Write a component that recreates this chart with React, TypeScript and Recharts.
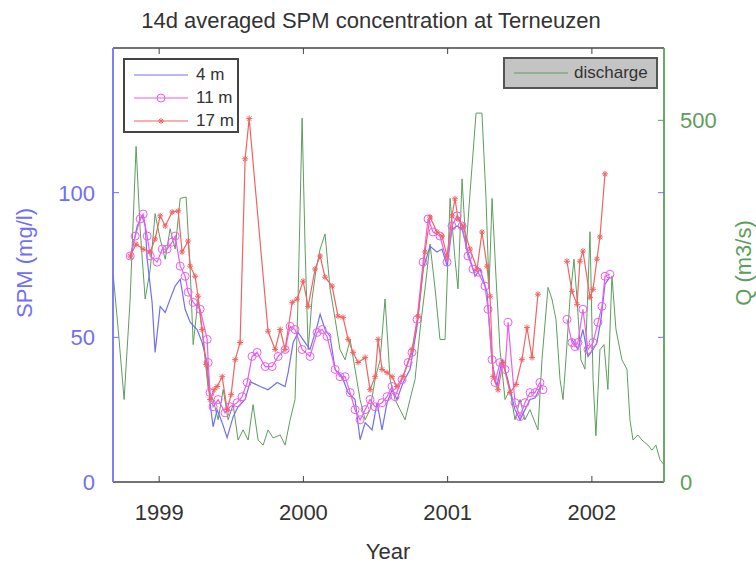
import { LineChart, Line, XAxis, YAxis, ReferenceLine, Label } from 'recharts'

// plot frame in page pixels (MATLAB-style box)
const PLOT_LEFT = 113
const PLOT_RIGHT = 664
const PLOT_TOP = 48
const PLOT_BOTTOM = 482

const FONT = '"Liberation Sans", Arial, Helvetica, sans-serif'
const BLUE = '#7070f4'
const MAGENTA = '#ee5cee'
const RED = '#f06464'
const GREEN = '#5d9e5d'
const AXIS = '#444444'

const yearTicks = [1999, 2000, 2001, 2002]
const spmTicks = [0, 50, 100]
const qTicks = [0, 500]

// discharge (m3/s)
const qTime = [
  1998.681, 1998.716, 1998.757, 1998.799, 1998.84, 1998.868, 1998.903, 1998.938, 1998.972, 1999.007,
  1999.042, 1999.076, 1999.111, 1999.146, 1999.187, 1999.215, 1999.236, 1999.27, 1999.305, 1999.34,
  1999.374, 1999.409, 1999.444, 1999.478, 1999.513, 1999.547, 1999.582, 1999.617, 1999.651, 1999.686,
  1999.721, 1999.755, 1999.79, 1999.839, 1999.873, 1999.908, 1999.942, 1999.963, 1999.991, 2000.012,
  2000.033, 2000.06, 2000.088, 2000.116, 2000.15, 2000.185, 2000.22, 2000.254, 2000.289, 2000.324,
  2000.358, 2000.393, 2000.428, 2000.462, 2000.497, 2000.532, 2000.566, 2000.601, 2000.635, 2000.67,
  2000.705, 2000.739, 2000.774, 2000.809, 2000.843, 2000.878, 2000.913, 2000.947, 2000.982, 2001.017,
  2001.051, 2001.072, 2001.1, 2001.128, 2001.155, 2001.197, 2001.238, 2001.266, 2001.287, 2001.308,
  2001.336, 2001.363, 2001.398, 2001.432, 2001.467, 2001.502, 2001.536, 2001.571, 2001.626, 2001.654,
  2001.696, 2001.723, 2001.751, 2001.779, 2001.8, 2001.82, 2001.848, 2001.876, 2001.897, 2001.924,
  2001.952, 2001.987, 2002.008, 2002.028, 2002.056, 2002.084, 2002.111, 2002.139, 2002.167, 2002.208,
  2002.243, 2002.264, 2002.285, 2002.319, 2002.347, 2002.389, 2002.416, 2002.444, 2002.472, 2002.499,
]
const qValue = [
  287, 211, 114, 253, 464, 350, 253, 294, 371, 336,
  308, 350, 322, 392, 394, 294, 190, 253, 197, 128,
  114, 86, 128, 86, 107, 58, 72, 58, 107, 58,
  51, 72, 61, 65, 51, 86, 114, 253, 503, 322,
  183, 253, 294, 322, 343, 267, 225, 183, 169, 197,
  156, 114, 86, 100, 142, 169, 253, 142, 114, 100,
  86, 114, 142, 211, 267, 329, 267, 197, 197, 392,
  308, 267, 419, 322, 399, 510, 510, 392, 267, 392,
  281, 183, 114, 128, 86, 114, 86, 100, 72, 169,
  269, 253, 225, 142, 114, 169, 253, 308, 253, 169,
  156, 346, 142, 64, 183, 190, 128, 285, 211, 169,
  156, 86, 58, 65, 58, 51, 44, 51, 31, 24,
]

// SPM at 4 m (mg/l)
const spm4Time = [
  1998.799, 1998.848, 1998.882, 1998.903, 1998.917, 1998.951, 1998.972, 1999.007, 1999.042, 1999.076,
  1999.111, 1999.146, 1999.18, 1999.215, 1999.263, 1999.298, 1999.333, 1999.353, 1999.374, 1999.402,
  1999.437, 1999.471, 1999.513, 1999.547, 1999.596, 1999.631, 1999.7, 1999.755, 1999.818, 1999.873,
  1999.894, 1999.929, 1999.963, 2000.012, 2000.046, 2000.095, 2000.116, 2000.15, 2000.185, 2000.22,
  2000.268, 2000.31, 2000.358, 2000.393, 2000.428, 2000.476, 2000.511, 2000.545, 2000.58, 2000.615,
  2000.649, 2000.691, 2000.739, 2000.788, 2000.83, 2000.878, 2000.926, 2000.961, 2000.996, 2001.03,
  2001.065, 2001.1, 2001.141, 2001.19, 2001.225, 2001.273, 2001.308, 2001.342, 2001.377, 2001.412,
  2001.467, 2001.502, 2001.536, 2001.571, 2001.606, 2001.64, 2001.75, 2001.862, 2001.903, 2001.938,
  2001.973, 2002.008, 2002.035, 2002.063, 2002.091, 2002.125,
]
const spm4Value = [
  77.0, 88.5, 92.0, 88.5, 77.0, 62.1, 44.8, 60.7, 58.6, 63.2,
  67.7, 70.1, 59.7, 55.2, 52.7, 48.2, 41.3, 27.4, 19.1, 25.0,
  20.5, 15.3, 22.6, 26.0, 28.5, 34.7, 33.0, 31.9, 34.4, 33.0,
  37.8, 48.2, 51.7, 48.2, 45.8, 53.8, 58.0, 52.7, 50.3, 38.9,
  36.4, 30.9, 28.5, 14.6, 20.5, 18.0, 27.4, 18.0, 27.4, 31.9,
  28.5, 34.4, 38.9, 53.8, 73.6, 81.5, 79.5, 80.5, 74.6, 87.4,
  88.5, 87.4, 79.5, 71.1, 73.6, 65.6, 41.3, 33.0, 42.3, 36.4,
  25.0, 21.5, 25.0, 28.5, 29.0, 32.6, null, 49.3, 45.8, 52.7,
  43.4, 45.8, 48.2, 56.2, 68.4, 70.8,
]

// SPM at 11 m (mg/l)
const spm11Time = [
  1998.799, 1998.834, 1998.868, 1998.889, 1998.917, 1998.938, 1998.986, 1999.021, 1999.055, 1999.09,
  1999.111, 1999.146, 1999.18, 1999.201, 1999.236, 1999.284, 1999.333, 1999.34, 1999.353, 1999.374,
  1999.409, 1999.457, 1999.492, 1999.541, 1999.575, 1999.61, 1999.644, 1999.679, 1999.735, 1999.783,
  1999.825, 1999.873, 1999.908, 1999.942, 1999.991, 2000.046, 2000.095, 2000.13, 2000.164, 2000.22,
  2000.254, 2000.289, 2000.324, 2000.358, 2000.393, 2000.428, 2000.462, 2000.497, 2000.545, 2000.58,
  2000.615, 2000.635, 2000.684, 2000.726, 2000.753, 2000.788, 2000.83, 2000.864, 2000.899, 2000.947,
  2000.996, 2001.03, 2001.065, 2001.1, 2001.141, 2001.176, 2001.211, 2001.259, 2001.28, 2001.308,
  2001.329, 2001.363, 2001.398, 2001.419, 2001.467, 2001.502, 2001.536, 2001.571, 2001.606, 2001.64,
  2001.661, 2001.75, 2001.827, 2001.862, 2001.883, 2001.903, 2001.938, 2001.973, 2002.008, 2002.042,
  2002.07, 2002.091, 2002.125,
]
const spm11Value = [
  78.1, 85.0, 90.9, 92.6, 85.0, 78.1, 76.0, 80.5, 80.5, 82.9,
  85.0, 74.6, 71.1, 65.6, 62.1, 59.7, 49.3, 41.3, 30.9, 26.0,
  28.5, 23.9, 26.0, 27.4, 29.5, 34.4, 43.4, 44.8, 39.9, 39.9,
  43.4, 45.8, 53.8, 52.7, 45.8, 43.4, 51.7, 52.7, 50.3, 38.9,
  36.4, 36.4, 30.9, 25.0, 21.5, 25.0, 28.5, 26.0, 27.4, 29.5,
  33.0, 29.5, 35.4, 41.3, 44.8, 56.2, 76.0, 90.9, 86.4, 85.0,
  76.0, 88.5, 92.0, 88.5, 78.1, 73.6, 72.5, 67.7, 59.7, 42.3,
  34.4, 41.3, 38.9, 55.2, 27.4, 22.6, 27.4, 30.9, 30.9, 34.4,
  31.9, null, 56.2, 48.2, 46.8, 48.2, 59.7, 45.8, 48.2, 55.2,
  60.7, 71.1, 71.8,
]

// SPM at 17 m (mg/l)
const spm17Time = [
  1998.799, 1998.84, 1998.889, 1998.938, 1998.972, 1999.007, 1999.042, 1999.09, 1999.132, 1999.159,
  1999.201, 1999.215, 1999.249, 1999.27, 1999.298, 1999.326, 1999.353, 1999.381, 1999.402, 1999.437,
  1999.471, 1999.499, 1999.527, 1999.561, 1999.596, 1999.624, 1999.755, 1999.804, 1999.839, 1999.873,
  1999.922, 1999.956, 1999.998, 2000.033, 2000.081, 2000.116, 2000.15, 2000.199, 2000.24, 2000.275,
  2000.31, 2000.344, 2000.379, 2000.428, 2000.462, 2000.497, 2000.518, 2000.545, 2000.58, 2000.615,
  2000.649, 2000.691, 2000.753, 2000.795, 2000.843, 2000.878, 2000.926, 2000.961, 2000.996, 2001.03,
  2001.051, 2001.072, 2001.107, 2001.155, 2001.204, 2001.238, 2001.273, 2001.294, 2001.315, 2001.349,
  2001.384, 2001.432, 2001.474, 2001.515, 2001.55, 2001.585, 2001.626, 2001.72, 2001.827, 2001.862,
  2001.897, 2001.917, 2001.938, 2001.987, 2002.008, 2002.035, 2002.056, 2002.091,
]
const spm17Value = [
  78.1, 82.2, 80.5, 79.5, 84.0, 92.0, 88.5, 93.3, 93.7, 79.5,
  83.3, 74.6, 71.1, 64.2, 52.7, 40.6, 28.5, 31.9, 33.0, 36.4,
  25.0, 30.2, 42.3, 48.2, 111.7, 125.6, 52.1, 45.8, 52.7, 45.8,
  62.1, 63.2, 69.4, 60.7, 73.6, 78.1, 70.8, 67.7, 57.3, 56.9,
  49.3, 44.8, 41.3, 43.0, 31.9, 36.4, 49.3, 38.9, 37.8, 36.4,
  33.0, 36.4, 45.8, 57.3, 79.5, 91.6, 86.4, 85.0, 78.1, 92.0,
  97.9, 90.9, 88.5, 80.5, 73.6, 86.4, 74.6, 64.2, 36.4, 31.9,
  41.3, 30.9, 33.7, 42.3, 53.4, 43.0, 64.9, null, 76.3, 65.9,
  61.4, 76.3, 79.8, 63.8, 66.6, 77.0, 84.7, 106.5,
]

const toPoints = (t: number[], v: (number | null)[]) => t.map((x, i) => ({ t: x, v: v[i] }))

const discharge = toPoints(qTime, qValue)
const spm4 = toPoints(spm4Time, spm4Value)
const spm11 = toPoints(spm11Time, spm11Value)
const spm17 = toPoints(spm17Time, spm17Value)

function YearTick(props: any) {
  const { x, payload } = props
  return (
    <g>
      <line x1={x} x2={x} y1={PLOT_BOTTOM} y2={PLOT_BOTTOM - 6} stroke={AXIS} />
      <line x1={x} x2={x} y1={PLOT_TOP} y2={PLOT_TOP + 6} stroke={AXIS} />
      <text x={x} y={520} textAnchor="middle" fontSize={22} fontFamily={FONT} fill="#333">
        {payload.value}
      </text>
    </g>
  )
}

function SpmTick(props: any) {
  const { y, payload } = props
  return (
    <g>
      {payload.value > 0 && (
        <>
          <line x1={PLOT_LEFT} x2={PLOT_LEFT + 6} y1={y} y2={y} stroke={BLUE} />
          <line x1={PLOT_RIGHT - 6} x2={PLOT_RIGHT} y1={y} y2={y} stroke={BLUE} />
        </>
      )}
      <text x={95} y={y + 8} textAnchor="end" fontSize={22} fontFamily={FONT} fill={BLUE}>
        {payload.value}
      </text>
    </g>
  )
}

function QTick(props: any) {
  const { y, payload } = props
  return (
    <g>
      {payload.value > 0 && <line x1={PLOT_RIGHT - 6} x2={PLOT_RIGHT} y1={y} y2={y} stroke={GREEN} />}
      <text x={680} y={y + 8} textAnchor="start" fontSize={22} fontFamily={FONT} fill={GREEN}>
        {payload.value}
      </text>
    </g>
  )
}

function CircleDot(props: any) {
  const { cx, cy, index, payload } = props
  if (cx == null || cy == null || payload?.v == null) return <g key={index} />
  return <circle key={index} cx={cx} cy={cy} r={4} fill="none" stroke={MAGENTA} strokeWidth={1} />
}

function StarDot(props: any) {
  const { cx, cy, index, payload } = props
  if (cx == null || cy == null || payload?.v == null) return <g key={index} />
  const r = 3
  const d = 2.2
  return (
    <g key={index} stroke={RED} strokeWidth={1}>
      <line x1={cx - r} x2={cx + r} y1={cy} y2={cy} />
      <line x1={cx} x2={cx} y1={cy - r} y2={cy + r} />
      <line x1={cx - d} x2={cx + d} y1={cy - d} y2={cy + d} />
      <line x1={cx - d} x2={cx + d} y1={cy + d} y2={cy - d} />
    </g>
  )
}

function LegendLine({ color, marker }: { color: string; marker?: 'circle' | 'star' }) {
  return (
    <svg width={54} height={12} style={{ display: 'block', flexShrink: 0 }}>
      <line x1={0} x2={54} y1={6} y2={6} stroke={color} strokeWidth={1.2} />
      {marker === 'circle' && <circle cx={27} cy={6} r={4} fill="none" stroke={color} />}
      {marker === 'star' && (
        <g stroke={color}>
          <line x1={24} x2={30} y1={6} y2={6} />
          <line x1={27} x2={27} y1={3} y2={9} />
          <line x1={25} x2={29} y1={4} y2={8} />
          <line x1={25} x2={29} y1={8} y2={4} />
        </g>
      )}
    </svg>
  )
}

const depthLegend = [
  { label: '4 m', color: BLUE },
  { label: '11 m', color: MAGENTA, marker: 'circle' as const },
  { label: '17 m', color: RED, marker: 'star' as const },
]

export default function App() {
  return (
    <div style={{ position: 'absolute', left: 0, top: 0, width: 756, height: 566, background: '#fff', fontFamily: FONT }}>
      <div
        style={{
          position: 'absolute',
          left: 0,
          width: 742,
          top: 8,
          textAlign: 'center',
          fontSize: 22,
          color: '#333',
        }}
      >
        14d averaged SPM concentration at Terneuzen
      </div>

      <LineChart width={756} height={566} margin={{ top: PLOT_TOP, right: 32, bottom: 34, left: 53 }}>
        <XAxis
          dataKey="t"
          type="number"
          domain={[1998.68, 2002.5]}
          ticks={yearTicks}
          allowDataOverflow
          height={50}
          tick={<YearTick />}
          tickLine={false}
          axisLine={{ stroke: AXIS, strokeWidth: 1.5 }}
        >
          <Label
            content={() => (
              <text x={388} y={559} textAnchor="middle" fontSize={22} fontFamily={FONT} fill="#333">
                Year
              </text>
            )}
          />
        </XAxis>
        <YAxis
          yAxisId="spm"
          domain={[0, 150]}
          ticks={spmTicks}
          width={60}
          tick={<SpmTick />}
          tickLine={false}
          axisLine={{ stroke: BLUE, strokeWidth: 1.8 }}
        >
          <Label
            content={() => (
              <text
                x={24}
                y={263}
                transform="rotate(-90 24 263)"
                textAnchor="middle"
                dominantBaseline="central"
                fontSize={22}
                fontFamily={FONT}
                fill={BLUE}
              >
                SPM (mg/l)
              </text>
            )}
          />
        </YAxis>
        <YAxis
          yAxisId="q"
          orientation="right"
          domain={[0, 600]}
          ticks={qTicks}
          width={60}
          tick={<QTick />}
          tickLine={false}
          axisLine={{ stroke: GREEN, strokeWidth: 1.8 }}
        >
          <Label
            content={() => (
              <text
                x={743}
                y={263}
                transform="rotate(-90 743 263)"
                textAnchor="middle"
                dominantBaseline="central"
                fontSize={22}
                fontFamily={FONT}
                fill={GREEN}
              >
                Q (m3/s)
              </text>
            )}
          />
        </YAxis>
        <ReferenceLine yAxisId="spm" y={150} stroke={AXIS} strokeWidth={1.5} />

        <Line
          yAxisId="q"
          data={discharge}
          dataKey="v"
          type="linear"
          stroke={GREEN}
          strokeWidth={1}
          dot={false}
          activeDot={false}
          isAnimationActive={false}
        />
        <Line
          yAxisId="spm"
          data={spm4}
          dataKey="v"
          type="linear"
          stroke={BLUE}
          strokeWidth={1.2}
          dot={false}
          activeDot={false}
          isAnimationActive={false}
        />
        <Line
          yAxisId="spm"
          data={spm11}
          dataKey="v"
          type="linear"
          stroke={MAGENTA}
          strokeWidth={1.2}
          dot={<CircleDot />}
          activeDot={false}
          isAnimationActive={false}
        />
        <Line
          yAxisId="spm"
          data={spm17}
          dataKey="v"
          type="linear"
          stroke={RED}
          strokeWidth={1.2}
          dot={<StarDot />}
          activeDot={false}
          isAnimationActive={false}
        />
      </LineChart>

      {/* depth legend */}
      <div
        style={{
          position: 'absolute',
          left: 123,
          top: 58,
          width: 116,
          height: 75,
          border: '2px solid #444',
          background: '#fff',
          padding: '3px 0 0 9px',
          boxSizing: 'border-box',
        }}
      >
        {depthLegend.map((d) => (
          <div key={d.label} style={{ display: 'flex', alignItems: 'center', height: 23, gap: 8, whiteSpace: 'nowrap' }}>
            <LegendLine color={d.color} marker={d.marker} />
            <span style={{ fontSize: 17, color: '#333' }}>{d.label}</span>
          </div>
        ))}
      </div>

      {/* discharge legend */}
      <div
        style={{
          position: 'absolute',
          left: 503,
          top: 57,
          width: 155,
          height: 32,
          border: '2px solid #555',
          background: '#c4c4c4',
          boxSizing: 'border-box',
          display: 'flex',
          alignItems: 'center',
          paddingLeft: 9,
          gap: 6,
          whiteSpace: 'nowrap',
        }}
      >
        <LegendLine color={GREEN} />
        <span style={{ fontSize: 17, color: '#333' }}>discharge</span>
      </div>
    </div>
  )
}
